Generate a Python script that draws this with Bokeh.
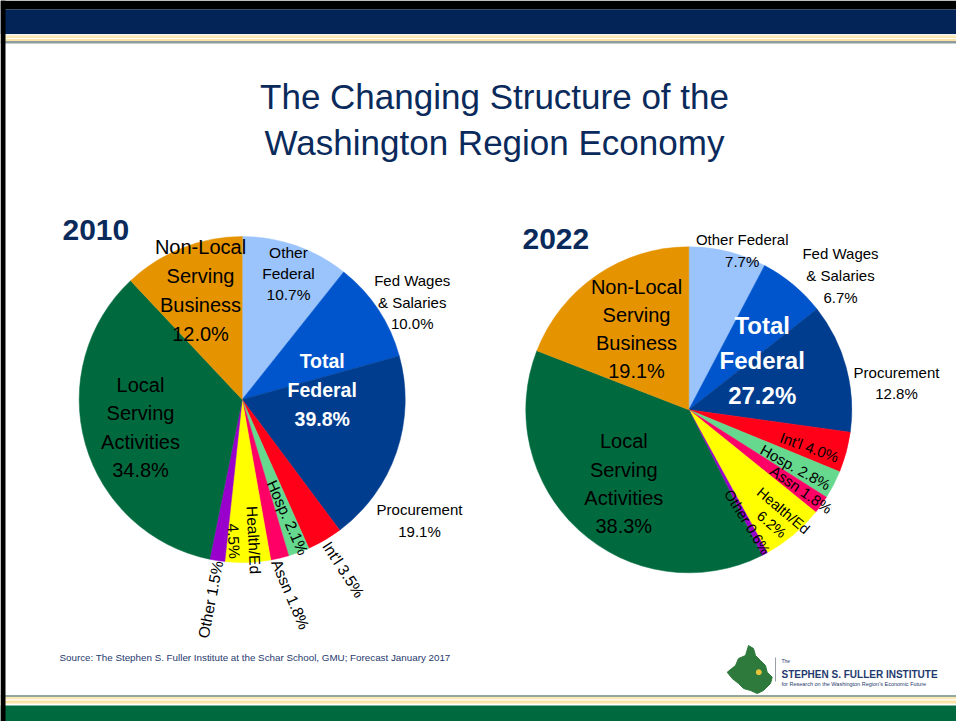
import math
from bokeh.plotting import figure
from bokeh.models import Range1d
from bokeh.core.properties import value
from bokeh.embed import file_html
from bokeh.resources import INLINE

# ---------------- data ----------------
categories = ["Other Federal", "Fed Wages & Salaries", "Procurement", "Int'l", "Hosp.",
              "Assn", "Health/Ed", "Other", "Local Serving Activities",
              "Non-Local Serving Business"]
slice_colors = ["#9BC4FC", "#0055CC", "#003D8F", "#FF0018", "#66D98F",
                "#FF0066", "#FFFF00", "#9900CC", "#006A3E", "#E59400"]
years = ["2010", "2022"]
values_2010 = [10.7, 10.0, 19.1, 3.5, 2.1, 1.8, 4.5, 1.5, 34.8, 12.0]
values_2022 = [7.7, 6.7, 12.8, 4.0, 2.8, 1.8, 6.2, 0.6, 38.3, 19.1]
federal_count = 3  # first three categories make up "Total Federal"

title_lines = ["The Changing Structure of the", "Washington Region Economy"]
source_text = "Source: The Stephen S. Fuller Institute at the Schar School, GMU; Forecast January 2017"

# ---------------- page geometry ----------------
W, H = 956, 721
NAVY = "#0A2A5C"
SANS = "Liberation Sans"


def X(sx):
    return sx


def Y(sy):
    return H - sy


p = figure(width=W, height=H, x_range=Range1d(0, W), y_range=Range1d(0, H),
           output_backend="svg", toolbar_location=None, min_border=0,
           x_axis_type=None, y_axis_type=None, background_fill_color="white",
           border_fill_color="white")
p.grid.visible = False
p.outline_line_color = None


def band(top, bottom, color, left=0, right=W):
    p.quad(left=[left], right=[right], top=[Y(top)], bottom=[Y(bottom)],
           fill_color=color, line_color=None)


# slide frame + header bands
band(0, 9, "#000000")
band(9, 33.5, "#032457")
band(33.5, 35, "#EEF3F6")
band(35, 37.5, "#FCE8B2")
band(37.5, 38.5, "#FFFFFF")
band(38.5, 40.5, "#FBE3A6")
band(40.5, 43, "#8E9C9E")
# footer bands
band(694.5, 696.5, "#93A89C")
band(696.5, 699, "#FCE8B2")
band(699, 700, "#FFFFFF")
band(700, 703, "#FBE3A6")
band(705, 721, "#00693E")
band(0, 721, "#000000", left=0, right=5)


def add_text(lines, sx, sy, size, spacing=0, angle_deg=0.0, color="black",
             bold=False, font=SANS, align="center"):
    a = math.radians(angle_deg)
    n = len(lines)
    nx, ny = math.sin(a), -math.cos(a)  # next-line direction
    cx, cy = X(sx), Y(sy)
    xs, ys = [], []
    for i in range(n):
        k = i - (n - 1) / 2.0
        xs.append(cx + nx * spacing * k)
        ys.append(cy + ny * spacing * k)
    p.text(x=xs, y=ys, text=lines, angle=[a] * n, text_font=value(font),
           text_font_size=f"{size}px", text_color=color,
           text_font_style="bold" if bold else "normal",
           text_align=align, text_baseline="middle")


# ---------------- title ----------------
add_text(title_lines, 494, 119, 35, spacing=46.5, color=NAVY)


# ---------------- pies ----------------
def draw_pie(vals, csx, csy, r):
    total = sum(vals)
    cum = 0.0
    starts, ends = [], []
    for v in vals:
        starts.append(math.pi / 2 - 2 * math.pi * cum / total)
        cum += v
        ends.append(math.pi / 2 - 2 * math.pi * cum / total)
    p.wedge(x=[X(csx)] * len(vals), y=[Y(csy)] * len(vals), radius=r,
            start_angle=starts, end_angle=ends, direction="clock",
            fill_color=slice_colors, line_color=slice_colors, line_width=0.5)


def pct(v):
    return f"{v:.1f}%"


R = 163
c10 = (241.7, 399.0)
c22 = (688.3, 409.3)
draw_pie(values_2010, *c10, R)
draw_pie(values_2022, *c22, R)

# year headings
add_text([years[0]], 62, 229, 30, color=NAVY, bold=True, align="left")
add_text([years[1]], 522, 238, 30, color=NAVY, bold=True, align="left")


def label_lines(vals, i, one_line_other_fed):
    v = pct(vals[i])
    if i == 0:
        return ["Other Federal", v] if one_line_other_fed else ["Other", "Federal", v]
    if i == 1:
        return ["Fed Wages", "& Salaries", v]
    if i == 2:
        return ["Procurement", v]
    if i == 6:
        return ["Health/Ed", v]
    if i == 8:
        return ["Local", "Serving", "Activities", v]
    if i == 9:
        return ["Non-Local", "Serving", "Business", v]
    return [f"{categories[i]} {v}"]


def labels(vals, c, spec, one_line_other_fed):
    cx, cy = c
    fed = sum(vals[:federal_count])
    for key, dx, dy, size, spacing, ang, color, bold in spec:
        if key == "fed":
            lines = ["Total", "Federal", pct(fed)]
        else:
            lines = label_lines(vals, key, one_line_other_fed)
        add_text(lines, cx + dx, cy + dy, size, spacing, ang, color, bold)


spec_2010 = [
    (9, -41.7, -109.0, 20, 29.0, 0, "black", False),
    (0, 46.3, -126.0, 15.5, 21.3, 0, "black", False),
    (1, 170.0, -97.4, 15, 21.6, 0, "black", False),
    ("fed", 80.0, -9.6, 19.5, 28.6, 0, "white", True),
    (2, 177.3, 121.0, 15, 22.0, 0, "black", False),
    (8, -101.7, 27.9, 20, 28.3, 0, "black", False),
    (3, 101.3, 170.0, 15.5, 0, -57, "black", False),
    (4, 45.3, 118.0, 15.5, 0, -66, "black", False),
    (5, 48.3, 195.0, 15.5, 0, -67, "black", False),
    (6, 1.6, 141.0, 15.5, 20.0, -87, "black", False),
    (7, -31.7, 200.0, 15.5, 0, 79, "black", False),
]
spec_2022 = [
    (9, -52.3, -81.0, 20, 28.2, 0, "black", False),
    (0, 53.4, -159.3, 15, 21.4, 0, "black", False),
    (1, 151.7, -134.5, 15, 21.7, 0, "black", False),
    ("fed", 73.4, -49.3, 24, 35.0, 0, "white", True),
    (2, 207.7, -26.8, 15, 20.4, 0, "black", False),
    (8, -65.0, 74.0, 20, 28.3, 0, "black", False),
    (3, 120.7, 37.4, 15, 0, -20, "black", False),
    (4, 106.7, 57.4, 15, 0, -29, "black", False),
    (5, 112.5, 79.7, 15, 0, -35, "black", False),
    (6, 88.7, 107.7, 14.5, 18.0, -40, "black", False),
    (7, 58.4, 112.4, 14.5, 0, -58, "black", False),
]
labels(values_2010, c10, spec_2010, False)
labels(values_2022, c22, spec_2022, True)

# ---------------- footer ----------------
add_text([source_text], 59, 656.5, 9.8, color="#1F3A6E", align="left")

# institute logo (decorative map silhouette)
logo_x = [726.7, 735, 738, 745, 748, 753, 755, 760, 765, 766.7, 771.7, 770,
          763, 756.7, 750, 743, 738, 731.7]
logo_y = [671.7, 665, 658, 655, 645, 648, 655, 660, 665, 671.7, 676.7, 683,
          690, 693, 690, 688, 683, 678]
p.patch(x=[X(v) for v in logo_x], y=[Y(v) for v in logo_y],
        fill_color="#2E7A3C", line_color="#2E7A3C")
p.scatter(x=[X(758.3)], y=[Y(671.7)], size=5, marker="circle",
          fill_color="#E8C53A", line_color="#E8C53A")
p.segment(x0=[X(775)], y0=[Y(657)], x1=[X(775)], y1=[Y(681)],
          line_color="#9AA0A6", line_width=1)
add_text(["The"], 781, 660.5, 5, color="#1F3A6E", align="left")
add_text(["STEPHEN S. FULLER INSTITUTE"], 781, 673.5, 10, color="#1F3A6E",
         bold=True, align="left")
add_text(["for Research on the Washington Region's Economic Future"], 781, 683.5,
         5.5, color="#1F3A6E", align="left")

open("out.html", "w").write(file_html(p, INLINE))
